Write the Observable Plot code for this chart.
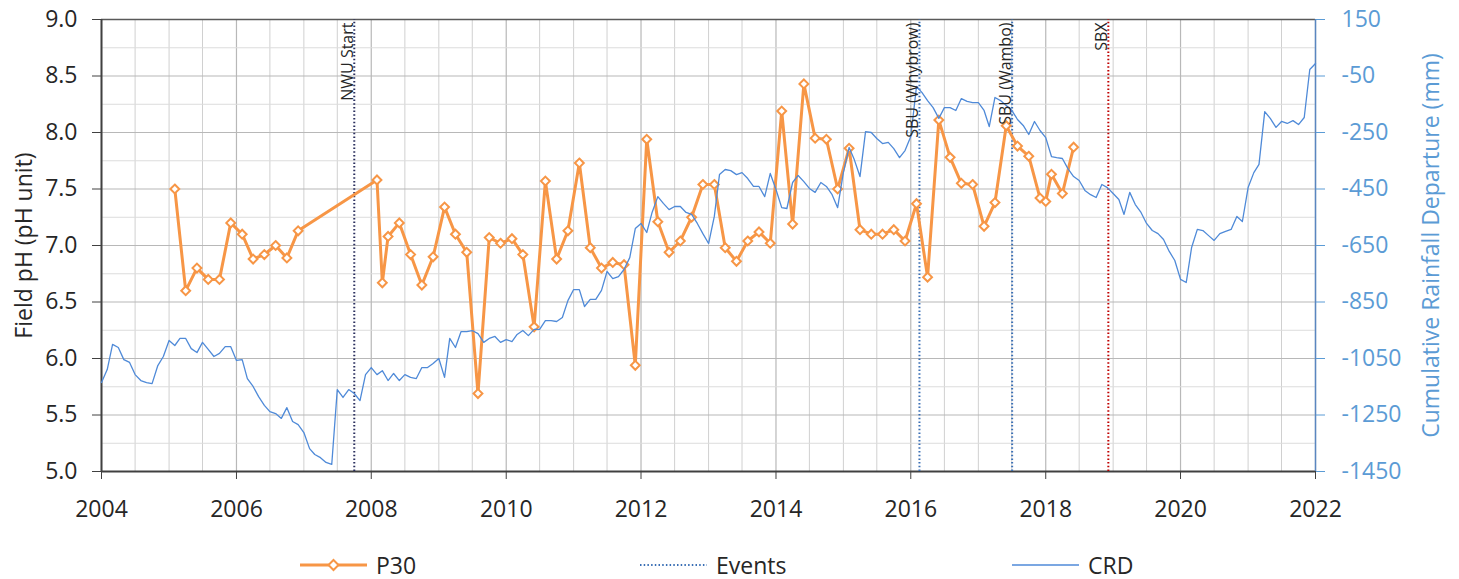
<!DOCTYPE html>
<html>
<head>
<meta charset="utf-8">
<script src="https://cdn.jsdelivr.net/npm/d3@7"></script>
<script src="https://cdn.jsdelivr.net/npm/@observablehq/plot@0.6"></script>
<style>
  html, body { margin: 0; padding: 0; background: #fff; }
  #wrap { width: 1459px; height: 579px; font-family: "Open Sans", sans-serif; }
  #legend { position: relative; width: 1459px; height: 49px; color: #262626; font-size: 23px; }
  #legend .item { position: absolute; top: 10px; height: 49px; display: flex; align-items: center; }
  #legend svg { display: block; }
</style>
</head>
<body>
<div id="wrap"><div id="chart"></div><div id="legend"></div></div>
<script>
// ---------- data ----------
const p30Dates = ["2005-02","2005-04","2005-06","2005-08","2005-10","2005-12","2006-02","2006-04","2006-06","2006-08","2006-10","2006-12",
  "2008-02","2008-03","2008-04","2008-06","2008-08","2008-10","2008-12","2009-02","2009-04","2009-06","2009-08","2009-10","2009-12",
  "2010-02","2010-04","2010-06","2010-08","2010-10","2010-12","2011-02","2011-04","2011-06","2011-08","2011-10","2011-12",
  "2012-02","2012-04","2012-06","2012-08","2012-10","2012-12","2013-02","2013-04","2013-06","2013-08","2013-10","2013-12",
  "2014-02","2014-04","2014-06","2014-08","2014-10","2014-12","2015-02","2015-04","2015-06","2015-08","2015-10","2015-12",
  "2016-02","2016-04","2016-06","2016-08","2016-10","2016-12","2017-02","2017-04","2017-06","2017-08","2017-10","2017-12",
  "2018-01","2018-02","2018-04","2018-06"];
const p30Values = [7.50,6.60,6.80,6.70,6.70,7.20,7.10,6.88,6.92,7.00,6.89,7.13,
  7.58,6.67,7.08,7.20,6.92,6.65,6.90,7.34,7.10,6.94,5.69,7.07,7.02,
  7.06,6.92,6.28,7.57,6.88,7.13,7.73,6.98,6.80,6.85,6.83,5.94,
  7.94,7.21,6.94,7.04,7.25,7.54,7.54,6.98,6.86,7.04,7.12,7.02,
  8.19,7.19,8.43,7.95,7.94,7.50,7.86,7.14,7.10,7.10,7.14,7.04,
  7.37,6.72,8.11,7.78,7.55,7.54,7.17,7.38,8.06,7.88,7.79,7.42,
  7.39,7.63,7.46,7.87];

// Cumulative rainfall departure (mm), monthly from 2004-01 to 2022-01
const crdStart = "2004-01";
const crdValues = [
  -1135,-1089,-1000,-1011,-1054,-1064,-1107,-1128,-1135,-1139,-1075,-1043, // 2004
  -986,-1004,-979,-979,-1015,-1029,-993,-1018,-1043,-1032,-1008,-1008,     // 2005
  -1057,-1054,-1121,-1149,-1185,-1216,-1238,-1245,-1262,-1224,-1273,-1284, // 2006
  -1312,-1369,-1390,-1401,-1418,-1425,-1160,-1188,-1160,-1174,-1199,-1107, // 2007
  -1082,-1107,-1093,-1128,-1103,-1128,-1107,-1117,-1121,-1082,-1082,-1068, // 2008
  -1050,-1117,-979,-1011,-955,-955,-951,-962,-993,-979,-972,-993,          // 2009
  -983,-990,-965,-951,-969,-947,-947,-916,-916,-919,-905,-845,             // 2010
  -806,-806,-866,-841,-841,-809,-742,-767,-760,-735,-693,-590,             // 2011
  -572,-604,-533,-477,-501,-523,-512,-512,-533,-540,-572,-608,             // 2012
  -643,-547,-399,-381,-385,-399,-392,-413,-441,-441,-477,-395,             // 2013
  -452,-516,-519,-427,-402,-424,-448,-462,-427,-441,-470,-516,             // 2014
  -392,-303,-346,-406,-247,-250,-271,-289,-285,-307,-339,-314,             // 2015
  -264,-87,-108,-137,-162,-200,-162,-162,-172,-130,-140,-144,              // 2016
  -144,-172,-229,-126,-137,-154,-172,-204,-225,-257,-211,-243,             // 2017
  -268,-335,-339,-342,-378,-406,-420,-455,-470,-480,-434,-445,             // 2018
  -466,-487,-540,-462,-505,-533,-572,-597,-608,-629,-671,-703,             // 2019
  -770,-781,-657,-593,-597,-615,-632,-608,-600,-593,-547,-565,             // 2020
  -445,-392,-363,-176,-200,-232,-211,-218,-208,-222,-197,-27,              // 2021
  -6                                                                       // 2022
];

const eventLabels = ["NWU Start", "SBU (Whybrow)", "SBU (Wambo)", "SBX"];
const eventDates = ["2007-10-01", "2016-02-17", "2017-07-03", "2018-12-06"];
const eventColors = ["#2b2f5e", "#3a6fb5", "#3a6fb5", "#c00000"];

const xTickYears = [2004, 2006, 2008, 2010, 2012, 2014, 2016, 2018, 2020, 2022];
const phTicks = [5.0, 5.5, 6.0, 6.5, 7.0, 7.5, 8.0, 8.5, 9.0];
const crdTicks = [150, -50, -250, -450, -650, -850, -1050, -1250, -1450];
const crdDomain = [-1450, 150];
const phDomain = [5, 9];

// ---------- derived tables ----------
const utc = s => new Date(s.length === 7 ? s + "-01T00:00:00Z" : s + "T00:00:00Z");
const toPh = v => phDomain[0] + (v - crdDomain[0]) / (crdDomain[1] - crdDomain[0]) * (phDomain[1] - phDomain[0]);
const fromPh = p => crdDomain[0] + (p - phDomain[0]) / (phDomain[1] - phDomain[0]) * (crdDomain[1] - crdDomain[0]);

const p30 = p30Dates.map((d, i) => ({date: utc(d), ph: p30Values[i]}));
const crd0 = utc(crdStart);
const crd = crdValues.map((v, i) => ({date: d3.utcMonth.offset(crd0, i), value: v, y: toPh(v)}));
const events = eventLabels.map((l, i) => ({label: l, date: utc(eventDates[i]), color: eventColors[i]}));

const xDomain = [new Date(Date.UTC(2004, 0, 1)), new Date(Date.UTC(2022, 0, 1))];
const xTicks = xTickYears.map(y => new Date(Date.UTC(y, 0, 1)));
const vGrid = d3.utcMonth.every(6).range(xDomain[0], d3.utcDay.offset(xDomain[1], 1));
const vGridMajor = vGrid.filter(d => xTickYears.includes(d.getUTCFullYear()) && d.getUTCMonth() === 0);
const vGridMinor = vGrid.filter(d => !vGridMajor.includes(d));
const hGridMinor = d3.range(5.25, 9, 0.5);
const crdTickPh = crdTicks.map(toPh);

const orange = "#f79646";
const blue = "#4f8ad8";
const blueText = "#5b9bd5";
const dark = "#404040";

const chart = Plot.plot({
  width: 1459,
  height: 530,
  marginLeft: 101,
  marginRight: 144,
  marginTop: 19,
  marginBottom: 59,
  x: {type: "utc", domain: xDomain, label: null},
  y: {domain: phDomain, label: null},
  style: {fontFamily: "'Open Sans', sans-serif", fontSize: "23px", color: "#262626", background: "white", overflow: "visible"},
  marks: [
    Plot.ruleX(vGridMinor, {stroke: "#d0d0d0", strokeWidth: 1}),
    Plot.ruleX(vGridMajor, {stroke: "#b8b8b8", strokeWidth: 1.2}),
    Plot.ruleY(hGridMinor, {stroke: "#dcdcdc", strokeWidth: 1}),
    Plot.ruleY(phTicks, {stroke: "#b8b8b8", strokeWidth: 1.2}),
    Plot.ruleY([phDomain[1]], {stroke: "#595959", strokeWidth: 1.5}),
    Plot.ruleY([phDomain[0]], {stroke: dark, strokeWidth: 2}),
    Plot.ruleX([xDomain[0]], {stroke: dark, strokeWidth: 2}),
    Plot.ruleX([xDomain[1]], {stroke: "#5a86c0", strokeWidth: 1.5}),
    Plot.ruleX(events, {x: "date", y1: phDomain[0], y2: phDomain[1], stroke: "color", strokeWidth: 2, strokeDasharray: "1.5,2.2"}),
    Plot.line(p30, {x: "date", y: "ph", stroke: orange, strokeWidth: 3, strokeLinejoin: "round"}),
    Plot.dot(p30, {x: "date", y: "ph", symbol: "diamond2", r: 4, stroke: orange, fill: "white", strokeWidth: 2}),
    Plot.line(crd, {x: "date", y: "y", stroke: blue, strokeWidth: 1.3}),
    Plot.text(events, {x: "date", y: () => phDomain[1], text: "label", rotate: -90, textAnchor: "end", lineAnchor: "bottom", dx: -1.5, dy: 3, fontSize: 16, fill: "#262626"}),
    Plot.axisX(xTicks, {tickSize: 8, tickPadding: 21, tickFormat: d3.utcFormat("%Y"), label: null, fontSize: 23, stroke: dark}),
    Plot.axisY(phTicks, {anchor: "left", tickSize: 9, tickPadding: 15, tickFormat: d3.format(".1f"), label: null, fontSize: 23, stroke: dark}),
    Plot.axisY(crdTickPh, {anchor: "right", tickSize: 9, tickPadding: 17, tickFormat: d => String(Math.round(fromPh(d))), label: null, fontSize: 23, stroke: blueText, fill: blueText}),
    Plot.text(["Field pH (pH unit)"], {frameAnchor: "left", rotate: -90, textAnchor: "middle", dx: -77, text: d => d, fontSize: 23, fill: "#262626"}),
    Plot.text(["Cumulative Rainfall Departure (mm)"], {frameAnchor: "right", rotate: -90, textAnchor: "middle", dx: 116, text: d => d, fontSize: 23, fill: blueText})
  ]
});
document.getElementById("chart").appendChild(chart);

// ---------- legend ----------
const legendItems = [
  {label: "P30", left: 300, kind: "p30"},
  {label: "Events", left: 640, kind: "events"},
  {label: "CRD", left: 1012, kind: "crd"}
];
const legend = d3.select("#legend");
legendItems.forEach(it => {
  const div = legend.append("div").attr("class", "item").style("left", it.left + "px");
  const svg = div.append("svg").attr("width", 68).attr("height", 20);
  if (it.kind === "p30") {
    svg.append("line").attr("x1", 0).attr("x2", 67).attr("y1", 10).attr("y2", 10).attr("stroke", orange).attr("stroke-width", 3);
    svg.append("path").attr("d", "M33.5,5 L38.5,10 L33.5,15 L28.5,10 Z").attr("fill", "white").attr("stroke", orange).attr("stroke-width", 2);
  } else if (it.kind === "events") {
    svg.append("line").attr("x1", 0).attr("x2", 67).attr("y1", 10).attr("y2", 10).attr("stroke", "#3a6fb5").attr("stroke-width", 2).attr("stroke-dasharray", "1.5,2.2");
  } else {
    svg.append("line").attr("x1", 0).attr("x2", 67).attr("y1", 10).attr("y2", 10).attr("stroke", blue).attr("stroke-width", 1.5);
  }
  div.append("span").style("margin-left", "8px").text(it.label);
});
</script>
</body>
</html>
